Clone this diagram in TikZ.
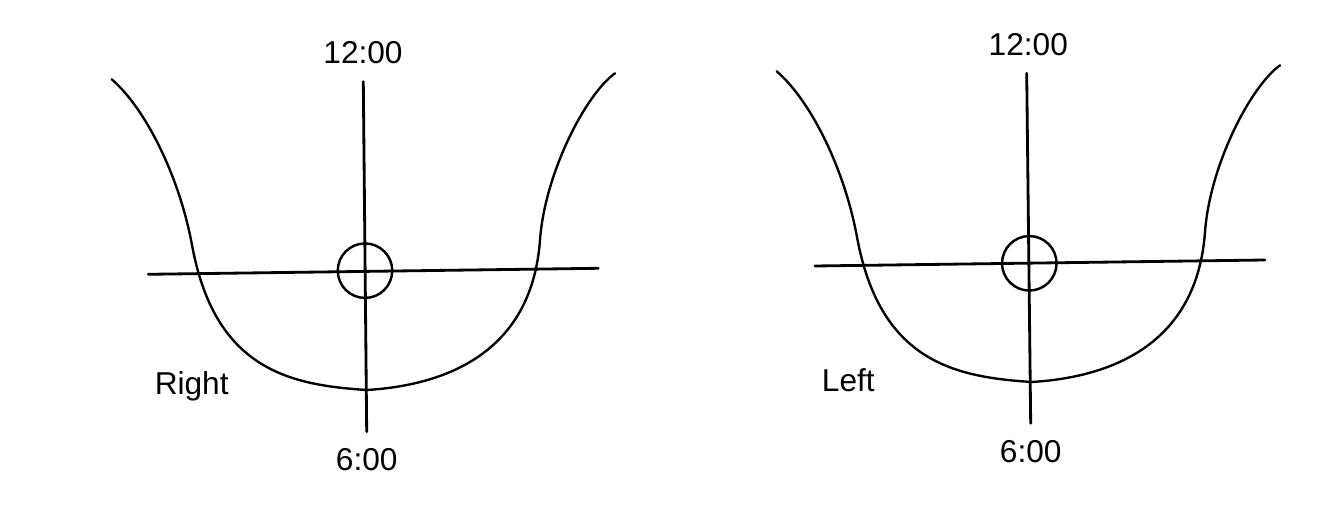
\documentclass[tikz,border=0pt]{standalone}
\usepackage{fontspec}
\setmainfont{Liberation Sans}
\usepackage{tikz}
\usetikzlibrary{positioning,calc}

\begin{document}
\begin{tikzpicture}[
    x=0.02cm, y=-0.02cm,
    font=\fontsize{18}{20}\selectfont,
    axisline/.style={line width=1.6pt, line cap=round},
    lenscurve/.style={line width=1.35pt, line cap=round},
    ring/.style={circle, draw, line width=1.4pt, minimum size=1.09cm, inner sep=0pt},
    clocklabel/.style={inner sep=0pt}
]
    \useasboundingbox (0,0) rectangle (1320,523);

    % right eye
    \coordinate (rtop) at (363.3,81.7);
    \coordinate (rbot) at (366.7,431.7);
    \coordinate (rlft) at (148.3,274.3);
    \coordinate (rrgt) at (598.3,268.3);
    \draw[axisline] (rtop) -- (rbot);
    \draw[axisline] (rlft) -- (rrgt);
    \node (rring) [ring] at (365,270.7) {};
    \draw[lenscurve] (111.7,79.3) .. controls (145,108) and (179,175) .. (192,245)
        .. controls (215,370) and (290,385) .. (366.7,390)
        .. controls (450,385) and (532,350) .. (540,240)
        .. controls (544.8,174) and (585,95) .. (615,73.3);
    \node (r12) [clocklabel] at (363,53) {12:00};
    \node (r6) [clocklabel] at (366.7,460) {6:00};
    \node (rname) [clocklabel] at (191.7,386.7) {Right};

    % left eye
    \coordinate (ltop) at (1026.7,73.3);
    \coordinate (lbot) at (1030.7,423.3);
    \coordinate (llft) at (815,266);
    \coordinate (lrgt) at (1265,260);
    \draw[axisline] (ltop) -- (lbot);
    \draw[axisline] (llft) -- (lrgt);
    \node (lring) [ring] at (1029.3,263.3) {};
    \begin{scope}[shift={(665,-8)}]
    \draw[lenscurve] (111.7,79.3) .. controls (145,108) and (179,175) .. (192,245)
        .. controls (215,370) and (290,385) .. (366.7,390)
        .. controls (450,385) and (532,350) .. (540,240)
        .. controls (544.8,174) and (585,95) .. (615,73.3);
    \end{scope}
    \node (l12) [clocklabel] at (1028.3,45) {12:00};
    \node (l6) [clocklabel] at (1030.7,451.7) {6:00};
    \node (lname) [clocklabel] at (848.3,380) {Left};
\end{tikzpicture}
\end{document}
